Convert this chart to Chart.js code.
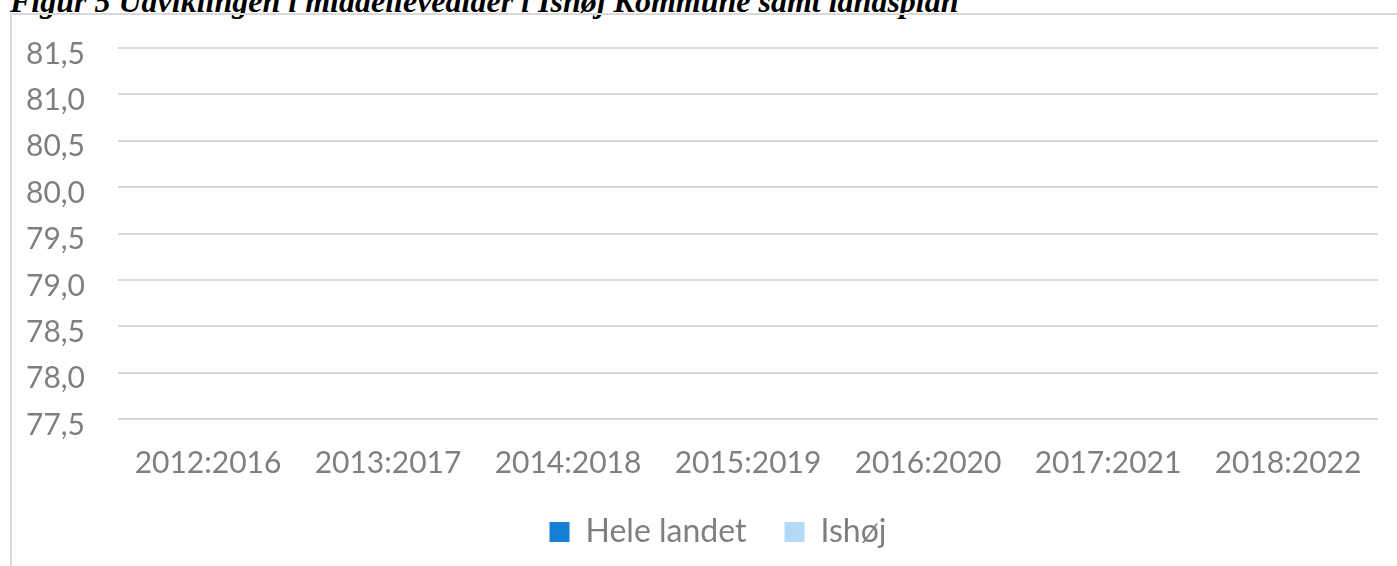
<!DOCTYPE html>
<html>
<head>
<meta charset="utf-8">
<script src="https://cdn.jsdelivr.net/npm/chart.js@4.4.1/dist/chart.umd.min.js"></script>
<style>
  html, body { margin: 0; padding: 0; background: #fff; overflow: hidden; }
  body { width: 1397px; height: 566px; position: relative; }
  #title {
    position: absolute; left: 10px; top: -17px; white-space: nowrap;
    font-family: "Liberation Serif", serif; font-weight: bold; font-style: italic;
    font-size: 32px; line-height: 36px; color: #000;
  }
  #frame {
    position: absolute; left: 10px; top: 13px; width: 1420px; height: 600px;
    border: 2px solid #d9d9d9; box-sizing: border-box;
  }
  #wrap { position: absolute; left: 0; top: 0; width: 1418px; height: 566px; }
</style>
</head>
<body>
<div id="title">Figur 5 Udviklingen i middellevealder i Ishøj Kommune samt landsplan</div>
<div id="frame"></div>
<div id="wrap"><canvas id="chart"></canvas></div>
<script>
// periods on the x axis
const periods = ['2012:2016', '2013:2017', '2014:2018', '2015:2019', '2016:2020', '2017:2021', '2018:2022'];
// no bars are shown in the figure, so the values are empty
const heleLandet = [null, null, null, null, null, null, null];
const ishoj = [null, null, null, null, null, null, null];
// y axis range
const yMin = 77.5;
const yMax = 81.5;
const yStep = 0.5;

const grey = '#7f7f7f';
const font = { family: 'Lato', size: 30 };

// y labels stick out left of the narrow axis box, so don't clip them
const unclipY = {
  id: 'unclipY',
  afterLayout: chart => { chart.scales.y.left = 0; }
};

const ctx = document.getElementById('chart').getContext('2d');
new Chart(ctx, {
  type: 'bar',
  data: {
    labels: periods,
    datasets: [
      { label: 'Hele landet', data: heleLandet, backgroundColor: '#1380d6' },
      { label: 'Ishøj', data: ishoj, backgroundColor: '#b4d9f7' }
    ]
  },
  options: {
    responsive: true,
    maintainAspectRatio: false,
    animation: false,
    layout: { padding: { top: 48, right: 40, left: 58, bottom: 8 } },
    plugins: {
      tooltip: { enabled: false },
      legend: {
        position: 'bottom',
        labels: {
          color: grey,
          font: { family: 'Lato', size: 32 },
          boxWidth: 20,
          boxHeight: 20,
          padding: 38
        }
      }
    },
    scales: {
      y: {
        min: yMin,
        max: yMax,
        border: { display: false },
        grid: { color: '#d9d9d9', lineWidth: 2, drawTicks: false },
        ticks: {
          stepSize: yStep,
          color: grey,
          font: font,
          padding: 33,
          labelOffset: 6,
          callback: v => v.toFixed(1).replace('.', ',')
        },
        afterFit: s => { s.width = 60; s.paddingTop = 0; s.paddingBottom = 0; }
      },
      x: {
        border: { display: false },
        grid: { display: false, drawTicks: false },
        ticks: { color: grey, font: font, padding: 26, maxRotation: 0 },
        afterFit: s => { s.height = 59; }
      }
    }
  },
  plugins: [unclipY]
});
</script>
</body>
</html>
